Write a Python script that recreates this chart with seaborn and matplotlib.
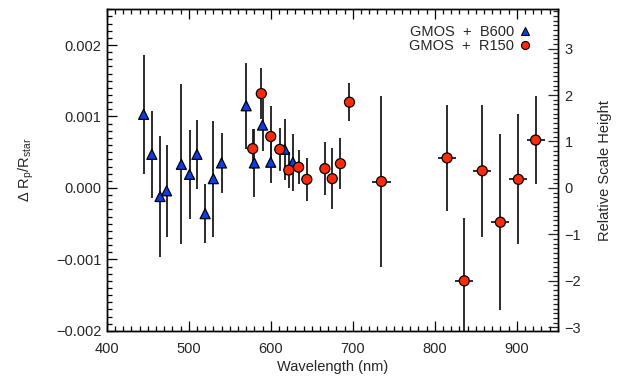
import numpy as np
import pandas as pd
import matplotlib
matplotlib.use("Agg")
import matplotlib.pyplot as plt
import seaborn as sns
from matplotlib.ticker import MultipleLocator, FuncFormatter

# GMOS + B600 (triangles)
b600_wave = [445, 455, 465, 473, 491, 501, 510, 520, 530, 540, 570, 580, 590, 600, 617, 627]
b600_drp = [1.03, 0.47, -0.12, -0.04, 0.33, 0.19, 0.47, -0.36, 0.13, 0.35, 1.15, 0.35, 0.88, 0.36, 0.54, 0.36]
b600_err = [0.83, 0.61, 0.85, 0.64, 1.12, 0.62, 0.48, 0.41, 0.81, 0.42, 0.60, 0.47, 0.37, 0.29, 0.43, 0.40]

# GMOS + R150 (circles)
r150_wave = [578, 588.5, 600, 611, 622, 634, 644, 666, 675, 685, 696, 735, 815, 836, 858, 880, 902, 923]
r150_drp = [0.55, 1.32, 0.72, 0.54, 0.25, 0.29, 0.12, 0.27, 0.13, 0.34, 1.20, 0.09, 0.42, -1.30, 0.24, -0.48, 0.12, 0.67]
r150_err = [0.28, 0.36, 0.42, 0.30, 0.25, 0.24, 0.30, 0.37, 0.43, 0.36, 0.27, 1.20, 0.74, 0.88, 0.92, 1.23, 0.91, 0.62]
r150_xerr = [5, 5, 5, 5, 5, 5, 5, 5, 5, 5, 5, 12, 11, 11, 11, 11, 11, 11]

scale_height = 0.00065  # in units of Rp/Rstar

df = pd.DataFrame({
    "wave": b600_wave + r150_wave,
    "drp": np.array(b600_drp + r150_drp) * 1e-3,
    "err": np.array(b600_err + r150_err) * 1e-3,
    "xerr": [0] * len(b600_wave) + r150_xerr,
    "setup": ["GMOS + B600"] * len(b600_wave) + ["GMOS + R150"] * len(r150_wave),
})

sns.set_theme(style="ticks")
plt.rcParams["font.family"] = ["Liberation Sans", "DejaVu Sans"]
plt.rcParams["mathtext.fontset"] = "custom"
plt.rcParams["mathtext.rm"] = "Liberation Sans"
fs = 10.5

fig = plt.figure(figsize=(6.26, 3.79), dpi=100)
ax = fig.add_axes([0.1705, 0.127, 0.7205, 0.8485])

for setup, sub in df.groupby("setup"):
    ax.errorbar(sub["wave"], sub["drp"], yerr=sub["err"], xerr=sub["xerr"],
                fmt="none", ecolor="#1a1a1a", elinewidth=1.3, capsize=0, zorder=2)

sns.scatterplot(data=df, x="wave", y="drp", hue="setup", style="setup",
                markers={"GMOS + B600": "^", "GMOS + R150": "o"},
                palette={"GMOS + B600": "#0a3cf0", "GMOS + R150": "#ff2a0a"},
                s=52, edgecolor="black", linewidth=0.9, zorder=3, ax=ax)

handles, labels = ax.get_legend_handles_labels()
for h in handles:
    h.set_markeredgecolor("black")
    h.set_markeredgewidth(0.8)
ax.legend(handles, ["GMOS  +  B600", "GMOS  +  R150"], loc="upper right",
          bbox_to_anchor=(0.965, 0.97), frameon=False, markerfirst=False,
          handletextpad=0.0, labelspacing=0.05, fontsize=fs, borderaxespad=0,
          handlelength=1.5, markerscale=0.8)

ax.set_xlim(400, 950)
ax.set_ylim(-0.002, 0.0025)
ax.xaxis.set_major_locator(MultipleLocator(100))
ax.xaxis.set_minor_locator(MultipleLocator(10))
ax.yaxis.set_major_locator(MultipleLocator(0.001))
ax.yaxis.set_minor_locator(MultipleLocator(0.0001))
ax.yaxis.set_major_formatter(FuncFormatter(lambda v, p: f"{v:.3f}".replace("-", "\u2212")))
ax.tick_params(axis="both", which="both", direction="in", top=True, right=False,
               labelsize=fs, width=0.9, color="black")
ax.tick_params(which="major", length=7)
ax.tick_params(which="minor", length=3.5)
ax.tick_params(axis="x", pad=8)
ax.tick_params(axis="y", pad=4)
ax.set_xlabel("Wavelength (nm)", fontsize=fs, labelpad=3)
ax.set_ylabel(r"$\Delta$ R$_{\rm p}$/R$_{\rm star}$", fontsize=fs, labelpad=14)

ax2 = ax.twinx()
lo, hi = ax.get_ylim()
ax2.set_ylim(lo / scale_height, hi / scale_height)
ax2.yaxis.set_major_locator(MultipleLocator(1))
ax2.yaxis.set_minor_locator(MultipleLocator(0.1))
ax2.yaxis.set_major_formatter(FuncFormatter(lambda v, p: f"{v:.0f}".replace("-", "\u2212")))
ax2.tick_params(axis="y", which="both", direction="in", labelsize=fs, width=0.9, pad=5)
ax2.tick_params(which="major", length=7)
ax2.tick_params(which="minor", length=3.5)
ax2.set_ylabel("Relative Scale Height", fontsize=fs, labelpad=12)

for a in (ax, ax2):
    for sp in a.spines.values():
        sp.set_linewidth(1.0)
        sp.set_color("black")

fig.savefig("out.png", dpi=100)
